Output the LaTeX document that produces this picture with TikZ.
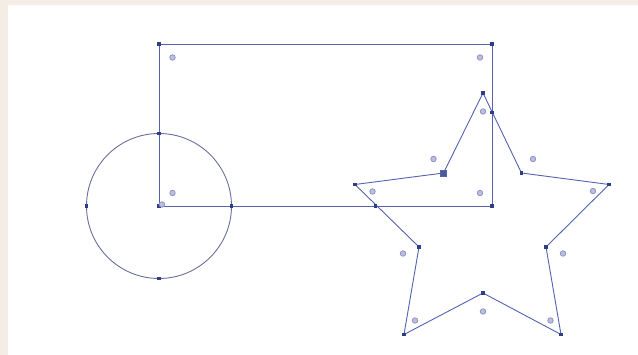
\documentclass[tikz,border=0pt]{standalone}
\usepackage{tikz}
\usetikzlibrary{calc}
\usepackage{xcolor}
\definecolor{PathBlue}{HTML}{5363B0}
\definecolor{CircleBlue}{HTML}{6C6F9E}
\definecolor{AnchorNavy}{HTML}{2F3D86}
\definecolor{HandleLilac}{HTML}{8F93C8}
\definecolor{PaperBeige}{HTML}{F4EDE6}
\tikzset{
    % Anchor point styles
    anchorpt/.style={
        rectangle,
        fill=AnchorNavy,
        inner sep=0pt,
        minimum size=3.2pt
    },
    anchorsel/.style={
        rectangle,
        fill=AnchorNavy!85,
        draw=PathBlue,
        inner sep=0pt,
        minimum size=6pt
    },
    % Handle marker style
    handlept/.style={
        circle,
        draw=HandleLilac,
        fill=HandleLilac!60,
        line width=0.8pt,
        inner sep=0pt,
        minimum size=5.5pt
    },
    % Path styles
    shapeline/.style={
        draw=PathBlue,
        line width=0.9pt
    },
    circleline/.style={
        draw=CircleBlue,
        line width=0.9pt
    }
}
\begin{document}
\begin{tikzpicture}[x=1pt, y=-1pt]
    % Page
    \fill[PaperBeige] (0,0) rectangle (638,355);
    \fill[white] (8,5) rectangle (638,355);
    \useasboundingbox (0,0) rectangle (638,355);

    % Rectangle corners
    \coordinate (rectTL) at (159,44);
    \coordinate (rectTR) at (492,44);
    \coordinate (rectBR) at (492,206);
    \coordinate (rectBL) at (159,206);

    % Circle
    \coordinate (circC) at (159,206);
    \coordinate (circT) at (159,133.5);
    \coordinate (circL) at (86.5,206);
    \coordinate (circB) at (159,278.5);
    \coordinate (circR) at (231.5,206);

    % Star points
    \coordinate (starTop) at (483,93);
    \coordinate (starIUR) at (521.5,173);
    \coordinate (starRight) at (609,184.5);
    \coordinate (starILR) at (546,247);
    \coordinate (starBR) at (561,334.5);
    \coordinate (starIB) at (483,293);
    \coordinate (starBL) at (404,334.5);
    \coordinate (starILL) at (419,247);
    \coordinate (starLeft) at (355,184.5);
    \coordinate (starIUL) at (443.5,173);

    % Outlines
    \draw[circleline] (circC) circle[radius=72.5];
    \draw[shapeline] (rectTL) -- (rectTR) -- (rectBR) -- (rectBL) -- cycle;
    \draw[shapeline] (starTop) -- (starIUR) -- (starRight) -- (starILR) -- (starBR)
        -- (starIB) -- (starBL) -- (starILL) -- (starLeft) -- (starIUL) -- cycle;

    % Crossings
    \coordinate (crossA) at (492,112.7);
    \coordinate (crossB) at (375.6,206);

    % Anchors
    \foreach \p in {rectTL,rectTR,rectBR,rectBL,circT,circL,circB,circR,
                    starTop,starIUR,starRight,starILR,starBR,starIB,starBL,
                    starILL,starLeft,crossA,crossB}
        \node[anchorpt] (a-\p) at (\p) {};
    \node[anchorsel] (a-starIUL) at (starIUL) {};

    % Handles
    \foreach \x/\y [count=\i] in {172.5/57.5, 480/57.5, 172.5/193, 480/193,
                                  162/204.5, 483/111.5, 433.5/159, 533/159,
                                  372.5/191.5, 593/191, 403/253.5, 563/253.5,
                                  415/320.5, 483/311.5, 550.5/320.5}
        \node[handlept] (h\i) at (\x,\y) {};
\end{tikzpicture}
\end{document}
